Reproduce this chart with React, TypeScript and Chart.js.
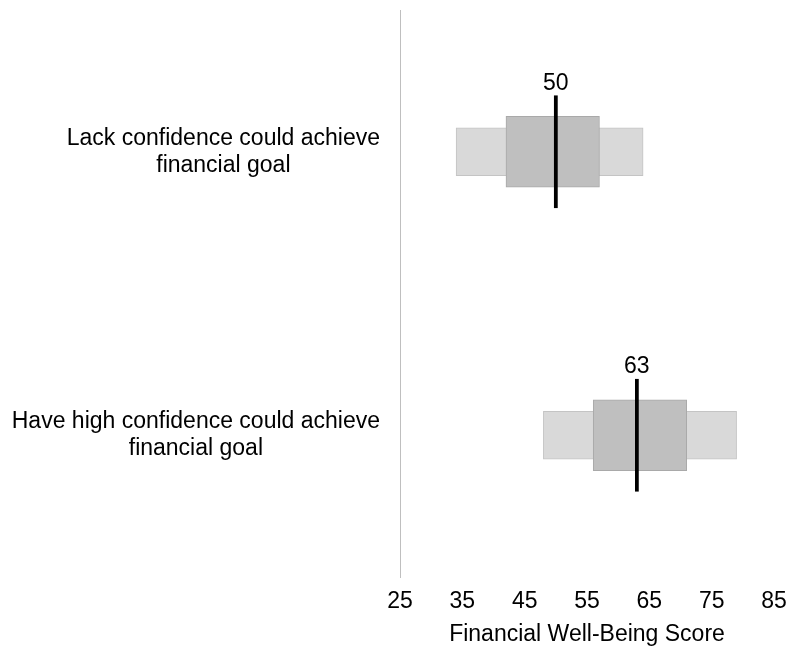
import { useEffect, useRef } from "react";
import { Chart, registerables } from "chart.js";

Chart.register(...registerables);

const categoryLines: string[][] = [
  ["Lack confidence could achieve", "financial goal"],
  ["Have high confidence could achieve", "financial goal"],
];
const categories = categoryLines.map((l) => l.join(" "));
const p10 = [34, 48];
const p25 = [42, 56];
const medians = [50, 63];
const p75 = [57, 71];
const p90 = [64, 79];
const xTicks = [25, 35, 45, 55, 65, 75, 85];
const xTitle = "Financial Well-Being Score";

const FONT = '"Liberation Sans", Arial, sans-serif';
const FS = 23;

const labelPlugin = {
  id: "customLabels",
  afterDraw(chart: any) {
    const ctx = chart.ctx;
    const xs = chart.scales.x;
    const ys = chart.scales.y;
    const area = chart.chartArea;
    ctx.save();
    ctx.fillStyle = "#000";
    ctx.font = `${FS}px ${FONT}`;
    // category labels: right-aligned block, lines centered within
    categoryLines.forEach((lines, i) => {
      const y = ys.getPixelForValue(i);
      const widest = Math.max(...lines.map((l) => ctx.measureText(l).width));
      const cx = area.left - 20 - widest / 2;
      const lh = 27;
      ctx.textAlign = "center";
      ctx.textBaseline = "middle";
      lines.forEach((l, j) => {
        ctx.fillText(l, cx, y + (j - (lines.length - 1) / 2) * lh);
      });
    });
    // median labels
    medians.forEach((m, i) => {
      const x = xs.getPixelForValue(m);
      const y = ys.getPixelForValue(i) - 56;
      ctx.textAlign = "center";
      ctx.textBaseline = "alphabetic";
      ctx.fillText(String(m), x, y - 6);
    });
    ctx.restore();
  },
};

export default function App() {
  const ref = useRef<HTMLCanvasElement>(null);
  useEffect(() => {
    if (!ref.current) return;
    const chart = new Chart(ref.current, {
      type: "bar",
      data: {
        labels: categories,
        datasets: [
          {
            label: "Median",
            data: medians.map((m) => [m - 0.25, m + 0.25]) as any,
            backgroundColor: "#000000",
            borderWidth: 0,
            barThickness: 112,
            grouped: false,
            order: 0,
          } as any,
          {
            label: "25th-75th",
            data: p25.map((v, i) => [v, p75[i]]) as any,
            backgroundColor: "#bfbfbf",
            borderColor: "#a9a9a9",
            borderWidth: 1,
            borderSkipped: false,
            barThickness: 71,
            grouped: false,
            order: 1,
          } as any,
          {
            label: "10th-90th",
            data: p10.map((v, i) => [v, p90[i]]) as any,
            backgroundColor: "#d9d9d9",
            borderColor: "#c4c4c4",
            borderWidth: 1,
            borderSkipped: false,
            barThickness: 48,
            grouped: false,
            order: 2,
          } as any,
        ],
      },
      options: {
        indexAxis: "y",
        animation: false,
        responsive: true,
        maintainAspectRatio: false,
        layout: { padding: { left: 400, right: 15, top: 10, bottom: 0 } },
        plugins: { legend: { display: false }, tooltip: { enabled: false } },
        scales: {
          x: {
            type: "linear",
            min: xTicks[0],
            max: xTicks[xTicks.length - 1],
            afterBuildTicks: (axis: any) => {
              axis.ticks = xTicks.map((v) => ({ value: v }));
            },
            afterFit: (axis: any) => {
              axis.height = 69;
              axis.paddingRight = 0;
              axis.paddingLeft = 0;
            },
            grid: { display: false, drawTicks: false },
            border: { display: false },
            ticks: {
              color: "#000",
              font: { family: FONT, size: FS },
              padding: 11,
              maxRotation: 0,
              autoSkip: false,
            },
            title: {
              display: true,
              text: xTitle,
              color: "#000",
              font: { family: FONT, size: FS },
              padding: { top: 0, bottom: -2 },
            },
          },
          y: {
            type: "category",
            grid: { display: false, drawTicks: false },
            border: { display: true, color: "#bfbfbf", width: 1 },
            ticks: { display: false },
          },
        },
      },
      plugins: [labelPlugin],
    });
    return () => chart.destroy();
  }, []);
  return (
    <div style={{ position: "absolute", left: 0, top: 0, width: 789, height: 646 }}>
      <canvas ref={ref} />
    </div>
  );
}
